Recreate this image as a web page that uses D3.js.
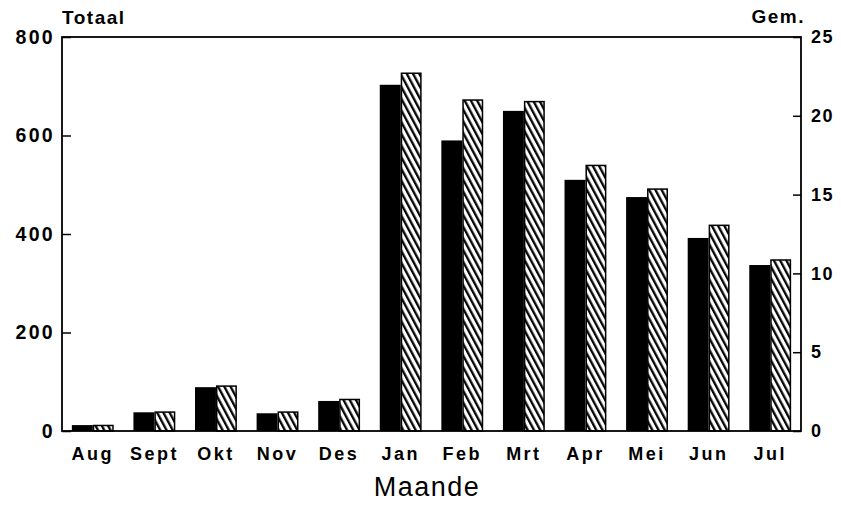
<!DOCTYPE html>
<html>
<head>
<meta charset="utf-8">
<script src="https://cdn.jsdelivr.net/npm/d3@7"></script>
<style>
  body { margin: 0; background: #fff; }
  text { font-family: "Liberation Sans", Arial, sans-serif; fill: #000; }
</style>
</head>
<body>
<svg id="chart" width="841" height="506"></svg>
<script>
const months = ["Aug", "Sept", "Okt", "Nov", "Des", "Jan", "Feb", "Mrt", "Apr", "Mei", "Jun", "Jul"];
const totaal = [12, 38, 89, 36, 61, 703, 590, 650, 510, 475, 392, 337];
const gem = [0.35, 1.2, 2.85, 1.2, 2.0, 22.7, 21.0, 20.9, 16.85, 15.35, 13.05, 10.85];
const leftTicks = [0, 200, 400, 600, 800];
const rightTicks = [0, 5, 10, 15, 20, 25];

const svg = d3.select("#chart");
const margin = { top: 37, right: 40, bottom: 75, left: 62 },
  width = 841 - margin.left - margin.right,
  height = 506 - margin.top - margin.bottom;

// diagonal hatch for the "Gem." bars
const pat = svg.append("defs").append("pattern")
  .attr("id", "hatch")
  .attr("patternUnits", "userSpaceOnUse")
  .attr("width", 5.5)
  .attr("height", 5.5)
  .attr("patternTransform", "rotate(-28)");
pat.append("rect").attr("width", 5.5).attr("height", 5.5).attr("fill", "#fff");
pat.append("line")
  .attr("x1", 1.2).attr("y1", 0).attr("x2", 1.2).attr("y2", 5.5)
  .attr("stroke", "#000").attr("stroke-width", 2.3);

const g = svg.append("g").attr("transform", `translate(${margin.left},${margin.top})`);

const x = d3.scaleBand().domain(months).range([0, width]).paddingInner(0.32).paddingOuter(0.16);
const x1 = d3.scaleBand().domain(["t", "g"]).range([0, x.bandwidth()]);
const yL = d3.scaleLinear().domain([0, 800]).range([height, 0]);
const yR = d3.scaleLinear().domain([0, 25]).range([height, 0]);

// black bars (totaal)
g.selectAll(".bar-t")
  .data(months)
  .enter()
  .append("rect")
  .attr("class", "bar-t")
  .attr("x", (d) => x(d) + x1("t"))
  .attr("y", (d, i) => yL(totaal[i]))
  .attr("width", x1.bandwidth())
  .attr("height", (d, i) => height - yL(totaal[i]))
  .attr("fill", "#000");

// hatched bars (gem)
g.selectAll(".bar-g")
  .data(months)
  .enter()
  .append("rect")
  .attr("class", "bar-g")
  .attr("x", (d) => x(d) + x1("g") + 0.75)
  .attr("y", (d, i) => yR(gem[i]))
  .attr("width", x1.bandwidth() - 1.5)
  .attr("height", (d, i) => height - yR(gem[i]))
  .attr("fill", "url(#hatch)")
  .attr("stroke", "#000")
  .attr("stroke-width", 1.5);

// frame
g.append("rect")
  .attr("width", width)
  .attr("height", height)
  .attr("fill", "none")
  .attr("stroke", "#000")
  .attr("stroke-width", 1.8);

const axL = g.append("g")
  .call(d3.axisLeft(yL).tickValues(leftTicks).tickSize(-9).tickPadding(7));
const axR = g.append("g")
  .attr("transform", `translate(${width},0)`)
  .call(d3.axisRight(yR).tickValues(rightTicks).tickSize(-8).tickPadding(10));
const axB = g.append("g")
  .attr("transform", `translate(0,${height})`)
  .call(d3.axisBottom(x).tickSize(0).tickPadding(16));

[axL, axR, axB].forEach((ax) => {
  ax.select(".domain").remove();
  ax.selectAll(".tick line").attr("stroke", "#000").attr("stroke-width", 1.5);
  ax.selectAll("text")
    .style("font-family", "'Liberation Sans', Arial, sans-serif")
    .style("font-weight", "bold");
});
axL.selectAll("text").style("font-size", "19.5px").style("letter-spacing", "2.3px");
axR.selectAll("text").style("font-size", "18px").style("letter-spacing", "1.5px");
axB.selectAll("text").style("font-size", "18px").style("letter-spacing", "2.5px");

svg.append("text")
  .attr("x", 62)
  .attr("y", 24)
  .style("font-size", "19px")
  .style("font-weight", "bold")
  .style("letter-spacing", "1.5px")
  .text("Totaal");

svg.append("text")
  .attr("x", 805)
  .attr("y", 23)
  .attr("text-anchor", "end")
  .style("font-size", "19px")
  .style("font-weight", "bold")
  .style("letter-spacing", "1.5px")
  .text("Gem.");

svg.append("text")
  .attr("x", 427)
  .attr("y", 496)
  .attr("text-anchor", "middle")
  .style("font-size", "27px")
  .style("letter-spacing", "1.5px")
  .text("Maande");
</script>
</body>
</html>
